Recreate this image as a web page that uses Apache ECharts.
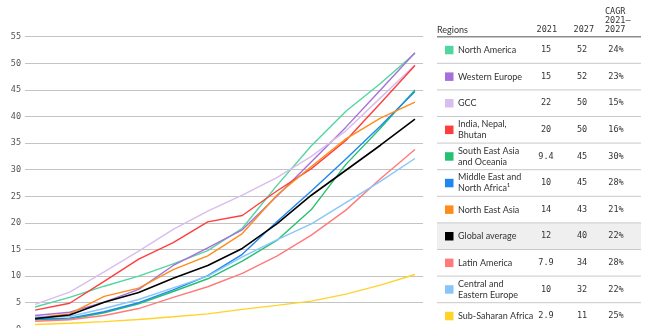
<!DOCTYPE html>
<html>
<head>
<meta charset="utf-8">
<script src="https://cdn.jsdelivr.net/npm/echarts@6/dist/echarts.min.js"></script>
<style>
html,body{margin:0;padding:0;background:#fff;}
#c{width:650px;height:328px;}
</style>
</head>
<body>
<div id="c"></div>
<script>
// ---------- data ----------
const years = [2016, 2017, 2018, 2019, 2020, 2021, 2022, 2023, 2024, 2025, 2026, 2027];

const northAmerica   = [4.2, 6.0, 8.1, 10.0, 12.3, 14.8, 19.0, 27.0, 34.5, 41.0, 46.2, 51.9];
const westernEurope  = [2.6, 3.2, 5.1, 7.5, 12.0, 15.3, 18.7, 25.0, 31.5, 38.0, 45.0, 52.0];
const gcc            = [4.7, 7.0, 10.8, 14.7, 18.8, 22.2, 25.2, 28.5, 32.5, 37.3, 43.5, 49.7];
const india          = [3.6, 4.9, 9.0, 13.2, 16.3, 20.2, 21.4, 26.0, 30.2, 35.5, 42.5, 49.6];
const seaOceania     = [1.8, 1.9, 3.1, 4.8, 7.1, 9.5, 12.8, 16.7, 22.5, 31.0, 37.8, 45.0];
const mena           = [1.9, 2.1, 3.3, 5.0, 7.4, 10.1, 14.1, 20.2, 26.0, 32.0, 38.2, 44.7];
const northEastAsia  = [2.2, 2.9, 6.2, 7.75, 11.2, 13.8, 18.0, 25.2, 30.6, 35.8, 39.7, 42.7];
const globalAverage  = [2.0, 2.7, 5.1, 6.9, 9.6, 12.0, 15.2, 19.8, 25.2, 29.9, 34.6, 39.5];
const latinAmerica   = [1.5, 1.8, 2.6, 3.9, 6.0, 8.0, 10.5, 13.75, 17.7, 22.4, 28.3, 33.8];
const centralEastEu  = [2.3, 2.4, 3.9, 5.6, 7.8, 10.0, 13.6, 16.8, 19.8, 23.8, 27.8, 32.1];
const subSaharan     = [0.9, 1.15, 1.45, 1.85, 2.35, 2.9, 3.75, 4.5, 5.3, 6.6, 8.3, 10.3];

const regionNames = ['North America', 'Western Europe', 'GCC', 'India, Nepal,\nBhutan',
  'South East Asia\nand Oceania', 'Middle East and\nNorth Africa\u00B9', 'North East Asia',
  'Global average', 'Latin America', 'Central and\nEastern Europe', 'Sub-Saharan Africa'];
const value2021 = ['15', '15', '22', '20', '9.4', '10', '14', '12', '7.9', '10', '2.9'];
const value2027 = ['52', '52', '50', '50', '45', '45', '43', '40', '34', '32', '11'];
const cagr      = ['24%', '23%', '15%', '16%', '30%', '28%', '21%', '22%', '28%', '22%', '25%'];
const yTicks = [0, 5, 10, 15, 20, 25, 30, 35, 40, 45, 50, 55];

const seriesData = [northAmerica, westernEurope, gcc, india, seaOceania, mena,
  northEastAsia, globalAverage, latinAmerica, centralEastEu, subSaharan];
const colors = ['#52d69f', '#a66fdb', '#d9bdec', '#ff3d3d', '#24c16f', '#1e87f0',
  '#ff8c1a', '#000000', '#ff7a7a', '#88c6fa', '#ffd32a'];

// ---------- layout ----------
const gridTop = 36.7, gridH = 292.6, gridLeft = 25, gridRight = 650 - 423;
const rowH = gridH / 11;
const monoFont = '"DejaVu Sans Mono", monospace';
const textFont = 'Lato, "Noto Sans", sans-serif';

const chart = echarts.init(document.getElementById('c'), null, {renderer: 'canvas'});

const graphics = [];
function txt(text, x, y, font, align, fill) {
  graphics.push({type: 'text', silent: true, z: 10, style: {
    text: text, x: x, y: y, font: font, fill: fill || '#333',
    align: align, textAlign: align, verticalAlign: 'middle', textVerticalAlign: 'middle', lineHeight: 11
  }});
}
txt('Regions', 437, 30, '9px ' + textFont, 'left');
txt('2021', 557, 30, '8.5px ' + monoFont, 'right');
txt('2027', 594, 30, '8.5px ' + monoFont, 'right');
txt('CAGR', 605, 12, '8.5px ' + monoFont, 'left');
txt('2021\u2013', 605, 21, '8.5px ' + monoFont, 'left');
txt('2027', 605, 30, '8.5px ' + monoFont, 'left');

regionNames.forEach(function (name, i) {
  const top = gridTop + i * rowH;
  const cy = top + rowH / 2;
  if (name === 'Global average') {
    graphics.push({type: 'rect', silent: true, z: 1, shape: {x: 437, y: top, width: 204, height: rowH},
      style: {fill: '#efefef'}});
  }
  graphics.push({type: 'rect', silent: true, z: 5, shape: {x: 445, y: cy - 4.2, width: 8.5, height: 8.5},
    style: {fill: colors[i]}});
  txt(name, 458, cy, '9px ' + textFont, 'left');
  txt(value2021[i], 546, cy, '8.5px ' + monoFont, 'center');
  txt(value2027[i], 582, cy, '8.5px ' + monoFont, 'center');
  txt(cagr[i], 616, cy, '8.5px ' + monoFont, 'center');
  if (i > 0) {
    graphics.push({type: 'line', silent: true, z: 4, shape: {x1: 437, y1: top, x2: 641, y2: top},
      style: {stroke: '#c9c9c9', lineWidth: 1}});
  }
});
graphics.push({type: 'line', silent: true, z: 4, shape: {x1: 437, y1: gridTop, x2: 641, y2: gridTop},
  style: {stroke: '#8c8c8c', lineWidth: 1.6}});

chart.setOption({
  animation: false,
  backgroundColor: '#ffffff',
  grid: {left: gridLeft, right: gridRight, top: gridTop, height: gridH,
    containLabel: false, outerBoundsMode: 'none'},
  xAxis: {
    type: 'value', min: 2015.708, max: 2027.233, show: false,
    splitLine: {show: false}
  },
  yAxis: {
    type: 'value', min: yTicks[0], max: yTicks[yTicks.length - 1], interval: 5,
    axisLine: {show: false}, axisTick: {show: false},
    axisLabel: {margin: 4, color: '#555', fontSize: 8.5, fontFamily: 'DejaVu Sans Mono'},
    splitLine: {lineStyle: {color: '#c4c4c4', width: 1}}
  },
  graphic: graphics,
  series: seriesData.map(function (d, i) {
    return {
      type: 'line', name: regionNames[i], showSymbol: false, smooth: false,
      data: d.map(function (v, k) { return [years[k], v]; }),
      lineStyle: {color: colors[i], width: i === 7 ? 1.6 : 1.4},
      itemStyle: {color: colors[i]},
      z: i === 7 ? 3 : 2
    };
  })
});
</script>
</body>
</html>
